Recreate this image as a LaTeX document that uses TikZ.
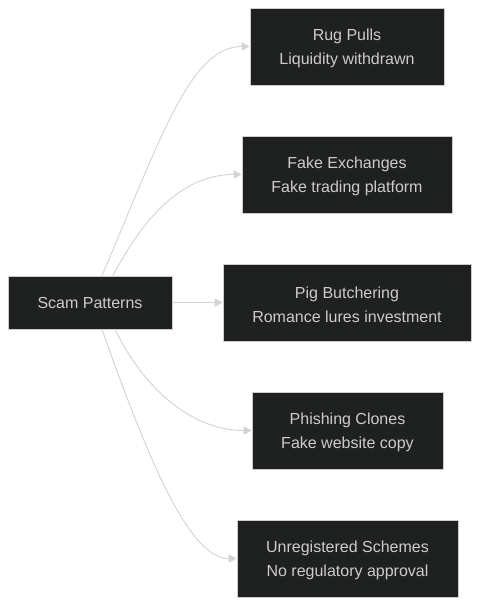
\documentclass[tikz,border=0pt]{standalone}
\usepackage{fontspec}
\setmainfont{Liberation Sans}
\usetikzlibrary{arrows.meta,calc}
\definecolor{boxfill}{HTML}{1F2020}
\definecolor{boxline}{HTML}{CCCCCC}
\definecolor{txt}{HTML}{CCCCCC}
\definecolor{edge}{HTML}{D3D3D3}
\newcommand{\tstrut}{\rule{0pt}{16pt}}
\begin{document}
\begin{tikzpicture}[x=1pt,y=-1pt,
  box/.style={draw=boxline,fill=boxfill,text=txt,line width=0.7pt,inner sep=0pt,
    align=center,font=\fontsize{16}{24}\selectfont},
  conn/.style={draw=edge,line width=0.9pt,-{Triangle[length=8pt,width=8pt]}}]
\useasboundingbox[fill=white] (0,0) rectangle (480,606);
\node[box,minimum width=164pt,minimum height=53pt] (sp) at (90,302.5) {Scam Patterns};
\node[box,minimum width=194pt,minimum height=77pt] (rug) at (347,46.5) {\tstrut Rug Pulls\\Liquidity withdrawn};
\node[box,minimum width=210pt,minimum height=77pt] (fake) at (347,174.5) {\tstrut Fake Exchanges\\Fake trading platform};
\node[box,minimum width=248pt,minimum height=77pt] (pig) at (347,302.5) {\tstrut Pig Butchering\\Romance lures investment};
\node[box,minimum width=191pt,minimum height=77pt] (phi) at (347.5,430.5) {\tstrut Phishing Clones\\Fake website copy};
\node[box,minimum width=221pt,minimum height=77pt] (unr) at (347.5,558.5) {\tstrut Unregistered Schemes\\No regulatory approval};
\draw[conn] ([xshift=12pt]sp.north) .. controls (160,140) and (190,46.5) .. (rug.west);
\draw[conn] ([xshift=23pt]sp.north) .. controls (150,205) and (190,174.5) .. (fake.west);
\draw[conn] (sp.east) -- (pig.west);
\draw[conn] ([xshift=25pt]sp.south) .. controls (150,400) and (200,430.5) .. (phi.west);
\draw[conn] ([xshift=12pt]sp.south) .. controls (150,465) and (190,558.5) .. (unr.west);
\end{tikzpicture}
\end{document}
